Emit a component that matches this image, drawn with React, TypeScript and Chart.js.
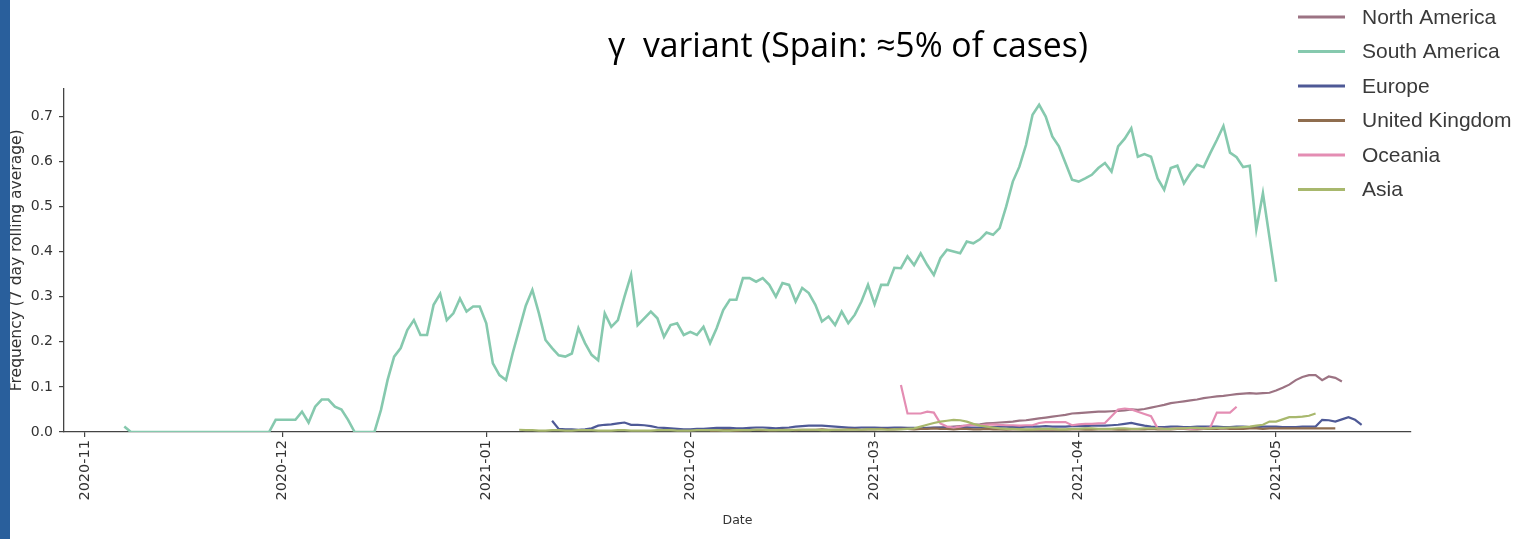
import React, { useEffect, useRef } from "react";
import { Chart, registerables } from "chart.js";

Chart.register(...registerables);

// Day 0 = 2020-11-01
const titleText = "γ  variant (Spain: ≈5% of cases)";
const regionNames = ["North America", "South America", "Europe", "United Kingdom", "Oceania", "Asia"];
const regionColors = ["#9c7383", "#86c9ae", "#4e5996", "#8f6d4f", "#e48db3", "#a8b86d"];

const tickDays = [0, 30, 61, 92, 120, 151, 181];
const tickLabels = ["2020-11", "2020-12", "2021-01", "2021-02", "2021-03", "2021-04", "2021-05"];
const yTickValues = [0, 0.1, 0.2, 0.3, 0.4, 0.5, 0.6, 0.7];

const naStart = 128;
const naValues = [
  0.008, 0.009, 0.01, 0.011, 0.012, 0.013, 0.014, 0.016, 0.017, 0.019,
  0.02, 0.021, 0.022, 0.023, 0.025, 0.026, 0.028, 0.03, 0.032, 0.034,
  0.036, 0.038, 0.041, 0.042, 0.043, 0.044, 0.045, 0.045, 0.046, 0.047,
  0.048, 0.05, 0.049, 0.051, 0.054, 0.057, 0.06, 0.064, 0.066, 0.068,
  0.07, 0.072, 0.075, 0.077, 0.079, 0.08, 0.082, 0.084, 0.085, 0.086,
  0.085, 0.086, 0.087, 0.092, 0.098, 0.105, 0.115, 0.122, 0.126, 0.126,
  0.115, 0.123, 0.12, 0.112,
];

const saStart = 6;
const saValues = [
  0.012, 0, 0, 0,
  0, 0, 0, 0, 0, 0, 0, 0, 0, 0,
  0, 0, 0, 0, 0, 0, 0, 0, 0, 0.027,
  0.027, 0.027, 0.027, 0.045, 0.021, 0.056, 0.072, 0.072, 0.056, 0.05,
  0.027, 0, 0, 0, 0, 0.049, 0.115, 0.167, 0.186, 0.226,
  0.248, 0.215, 0.215, 0.282, 0.306, 0.248, 0.263, 0.296, 0.267, 0.278,
  0.278, 0.241, 0.152, 0.126, 0.115, 0.174, 0.227, 0.28, 0.315, 0.263,
  0.204, 0.186, 0.17, 0.167, 0.174, 0.23, 0.197, 0.171, 0.159, 0.263,
  0.233, 0.248, 0.3, 0.348, 0.237, 0.252, 0.267, 0.252, 0.211, 0.237,
  0.241, 0.215, 0.222, 0.215, 0.233, 0.197, 0.23, 0.27, 0.293, 0.293,
  0.341, 0.341, 0.333, 0.341, 0.326, 0.3, 0.33, 0.326, 0.289, 0.319,
  0.308, 0.282, 0.245, 0.256, 0.237, 0.267, 0.241, 0.26, 0.289, 0.326,
  0.283, 0.326, 0.326, 0.364, 0.363, 0.389, 0.37, 0.396, 0.37, 0.348,
  0.385, 0.404, 0.4, 0.396, 0.422, 0.418, 0.427, 0.442, 0.437, 0.452,
  0.5, 0.555, 0.588, 0.636, 0.703, 0.725, 0.699, 0.655, 0.633, 0.596,
  0.559, 0.555, 0.562, 0.57, 0.585, 0.596, 0.577, 0.633, 0.65, 0.673,
  0.61, 0.616, 0.61, 0.562, 0.537, 0.585, 0.59, 0.551, 0.574, 0.592,
  0.587, 0.618, 0.647, 0.678, 0.619, 0.609, 0.587, 0.59, 0.449, 0.529,
  0.431, 0.333,
];

const euStart = 71;
const euValues = [
  0.025, 0.007, 0.006, 0.006, 0.005, 0.006, 0.008, 0.014, 0.016, 0.017,
  0.019, 0.021, 0.016, 0.016, 0.015, 0.013, 0.01, 0.009, 0.008, 0.007,
  0.006, 0.006, 0.007, 0.007, 0.008, 0.009, 0.009, 0.009, 0.008, 0.008,
  0.009, 0.01, 0.01, 0.009, 0.008, 0.009, 0.01, 0.012, 0.013, 0.014,
  0.014, 0.014, 0.013, 0.012, 0.011, 0.01, 0.009, 0.01, 0.01, 0.01,
  0.009, 0.009, 0.01, 0.01, 0.009, 0.009, 0.008, 0.009, 0.01, 0.01,
  0.01, 0.011, 0.011, 0.01, 0.01, 0.01, 0.011, 0.011, 0.012, 0.012,
  0.011, 0.011, 0.012, 0.012, 0.012, 0.013, 0.012, 0.012, 0.012, 0.013,
  0.013, 0.013, 0.014, 0.014, 0.014, 0.015, 0.016, 0.018, 0.02, 0.017,
  0.014, 0.012, 0.011, 0.011, 0.012, 0.012, 0.011, 0.011, 0.012, 0.012,
  0.012, 0.012, 0.011, 0.011, 0.012, 0.012, 0.011, 0.011, 0.012, 0.012,
  0.012, 0.011, 0.011, 0.011, 0.012, 0.012, 0.012, 0.027, 0.026, 0.023,
  0.028, 0.033, 0.027, 0.016,
];

const ukStart = 95;
const ukValues = [
  0.003, 0.003, 0.004, 0.004, 0.003, 0.004, 0.004, 0.005, 0.004, 0.004,
  0.004, 0.005, 0.005, 0.004, 0.005, 0.005, 0.005, 0.006, 0.005, 0.005,
  0.005, 0.006, 0.006, 0.005, 0.006, 0.006, 0.007, 0.006, 0.006, 0.007,
  0.007, 0.006, 0.007, 0.007, 0.008, 0.007, 0.007, 0.006, 0.007, 0.007,
  0.006, 0.006, 0.007, 0.006, 0.006, 0.005, 0.006, 0.006, 0.005, 0.005,
  0.005, 0.006, 0.005, 0.005, 0.005, 0.006, 0.006, 0.005, 0.005, 0.006,
  0.006, 0.006, 0.005, 0.005, 0.006, 0.006, 0.006, 0.007, 0.006, 0.006,
  0.006, 0.007, 0.007, 0.006, 0.006, 0.007, 0.007, 0.007, 0.008, 0.007,
  0.007, 0.007, 0.008, 0.008, 0.007, 0.008, 0.008, 0.008, 0.008, 0.008,
  0.008, 0.008, 0.008, 0.008, 0.008, 0.008,
];

const ocStart = 124;
const ocValues = [
  0.104, 0.041, 0.041, 0.041, 0.045, 0.043, 0.019, 0.012, 0.01, 0.012,
  0.015, 0.015, 0.015, 0.016, 0.017, 0.016, 0.015, 0.015, 0.014, 0.015,
  0.015, 0.02, 0.022, 0.022, 0.022, 0.022, 0.015, 0.017, 0.018, 0.018,
  0.019, 0.02, 0.035, 0.05, 0.052, 0.05, 0.045, 0.04, 0.035, 0.008,
  0.007, 0.007, 0.008, 0.008, 0.007, 0.008, 0.008, 0.01, 0.043, 0.043,
  0.043, 0.056,
];

const asStart = 66;
const asValues = [
  0.005, 0.004, 0.004, 0.003, 0.003, 0.004, 0.004, 0.003, 0.003, 0.004,
  0.004, 0.004, 0.003, 0.003, 0.003, 0.004, 0.004, 0.003, 0.003, 0.003,
  0.003, 0.004, 0.004, 0.004, 0.003, 0.003, 0.003, 0.004, 0.004, 0.004,
  0.004, 0.003, 0.003, 0.004, 0.004, 0.004, 0.005, 0.005, 0.004, 0.004,
  0.004, 0.004, 0.005, 0.005, 0.005, 0.005, 0.004, 0.004, 0.005, 0.005,
  0.005, 0.005, 0.005, 0.006, 0.006, 0.006, 0.005, 0.006, 0.006, 0.007,
  0.008, 0.012, 0.016, 0.02, 0.023, 0.025, 0.027, 0.026, 0.023, 0.018,
  0.014, 0.012, 0.01, 0.008, 0.007, 0.007, 0.006, 0.006, 0.006, 0.007,
  0.007, 0.007, 0.006, 0.006, 0.007, 0.007, 0.008, 0.008, 0.007, 0.007,
  0.007, 0.008, 0.008, 0.007, 0.007, 0.008, 0.008, 0.008, 0.007, 0.007,
  0.008, 0.008, 0.009, 0.009, 0.008, 0.008, 0.009, 0.009, 0.01, 0.01,
  0.011, 0.012, 0.014, 0.016, 0.023, 0.023, 0.028, 0.033, 0.033, 0.034,
  0.036, 0.041,
];

const seriesStarts = [naStart, saStart, euStart, ukStart, ocStart, asStart];
const seriesValues = [naValues, saValues, euValues, ukValues, ocValues, asValues];

const AXIS_FONT = "DejaVu Sans";
const AXIS_COLOR = "#333333";
const SPINE_COLOR = "#444444";

const overlayPlugin = {
  id: "overlay",
  afterDraw(chart: any) {
    const ctx = chart.ctx as CanvasRenderingContext2D;
    ctx.save();
    // Title
    ctx.font = `30px "Open Sans"`;
    const w = ctx.measureText(titleText).width;
    const size = (30 * 480) / w;
    ctx.font = `${size}px "Open Sans"`;
    ctx.fillStyle = "#000000";
    ctx.textAlign = "center";
    ctx.textBaseline = "alphabetic";
    ctx.fillText(titleText, 848, 57);
    // Legend
    ctx.font = `21px "Liberation Sans"`;
    ctx.textAlign = "left";
    ctx.textBaseline = "middle";
    chart.data.datasets.forEach((ds: any, i: number) => {
      const y = 17 + i * 34.5;
      ctx.strokeStyle = ds.borderColor;
      ctx.lineWidth = 3;
      ctx.beginPath();
      ctx.moveTo(1298, y);
      ctx.lineTo(1345, y);
      ctx.stroke();
      ctx.fillStyle = "#3a3a3a";
      ctx.fillText(ds.label, 1362, y + 1);
    });
    ctx.restore();
  },
};

export default function App() {
  const canvasRef = useRef<HTMLCanvasElement | null>(null);

  useEffect(() => {
    document.body.style.margin = "0";
    const canvas = canvasRef.current;
    if (!canvas) return;

    const datasets = regionNames.map((name, i) => ({
      label: name,
      data: seriesValues[i].map((v, k) => ({ x: seriesStarts[i] + k, y: v })),
      borderColor: regionColors[i],
      backgroundColor: regionColors[i],
      borderWidth: i === 1 ? 2.6 : 2.2,
      pointRadius: 0,
      tension: 0,
      fill: false,
      order: regionNames.length - i,
    }));

    const chart = new Chart(canvas, {
      type: "line",
      data: { datasets },
      options: {
        animation: false,
        responsive: false,
        maintainAspectRatio: false,
        devicePixelRatio: 1,
        layout: { padding: { top: 88.6, right: 125, bottom: 0, left: 0 } },
        plugins: {
          legend: { display: false },
          title: { display: false },
          tooltip: { enabled: false },
        },
        scales: {
          x: {
            type: "linear",
            min: -3.16,
            max: 201.5,
            afterBuildTicks: (s: any) => {
              s.ticks = tickDays.map((v) => ({ value: v }));
            },
            afterFit: (s: any) => {
              s.height = 107;
            },
            ticks: {
              autoSkip: false,
              minRotation: 90,
              maxRotation: 90,
              padding: 3,
              color: AXIS_COLOR,
              font: { family: AXIS_FONT, size: 14.5 },
              callback: (v: any) => {
                const idx = tickDays.indexOf(Number(v));
                return idx >= 0 ? tickLabels[idx] : "";
              },
            },
            grid: {
              display: true,
              drawOnChartArea: false,
              drawTicks: true,
              tickLength: 5,
              color: SPINE_COLOR,
              lineWidth: 1.2,
            },
            border: { display: true, color: SPINE_COLOR, width: 1.3 },
            title: {
              display: true,
              text: "Date",
              color: AXIS_COLOR,
              font: { family: AXIS_FONT, size: 12.5 },
              padding: { top: 0, bottom: 11 },
            },
          },
          y: {
            type: "linear",
            min: 0,
            max: 0.761,
            afterBuildTicks: (s: any) => {
              s.ticks = yTickValues.map((v) => ({ value: v }));
            },
            afterFit: (s: any) => {
              s.width = 64;
            },
            ticks: {
              padding: 6,
              color: AXIS_COLOR,
              font: { family: AXIS_FONT, size: 14 },
              callback: (v: any) => Number(v).toFixed(1),
            },
            grid: {
              display: true,
              drawOnChartArea: false,
              drawTicks: true,
              tickLength: 5,
              color: SPINE_COLOR,
              lineWidth: 1.2,
            },
            border: { display: true, color: SPINE_COLOR, width: 1.3 },
            title: {
              display: true,
              text: "Frequency (7 day rolling average)",
              color: AXIS_COLOR,
              font: { family: AXIS_FONT, size: 15.5 },
              padding: { top: 8, bottom: 0 },
            },
          },
        },
      },
      plugins: [overlayPlugin],
    } as any);

    return () => chart.destroy();
  }, []);

  return (
    <div style={{ position: "relative", width: 1536, height: 539, background: "#ffffff", overflow: "hidden" }}>
      <canvas ref={canvasRef} width={1536} height={539} style={{ display: "block", width: 1536, height: 539 }} />
      <div style={{ position: "absolute", left: 0, top: 0, width: 10, height: 539, background: "#295f9c" }} />
    </div>
  );
}
